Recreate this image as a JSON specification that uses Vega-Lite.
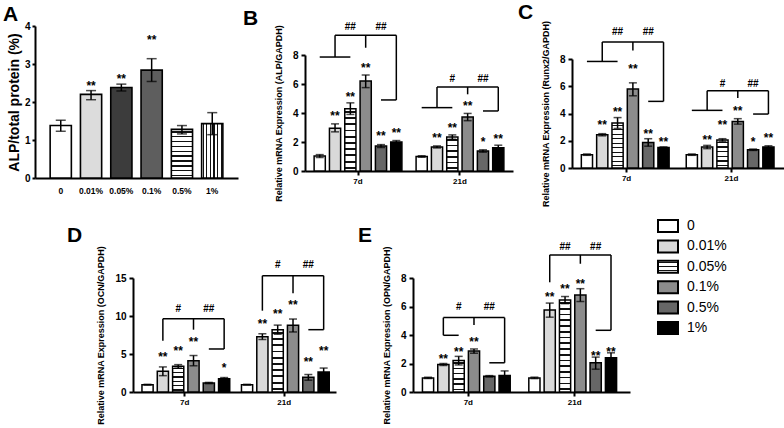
{
"$schema": "https://vega.github.io/schema/vega-lite/v6.json",
"background": "white",
"padding": {"left": 3, "top": 2, "right": 0, "bottom": 0},
"config": {
 "font": "Liberation Sans",
 "view": {"stroke": null},
 "axis": {"domainColor":"#000","domainWidth":2,"tickColor":"#000","tickWidth":2,"tickSize":4,"labelColor":"#000","labelFont":"Liberation Sans","labelFontWeight":"bold","labelFontSize":10,"titleFont":"Liberation Sans","titleFontWeight":"bold","titleFontSize":9,"titleColor":"#000","grid":false,"labelPadding":3,"titlePadding":9,"labelOverlap":false},
 "axisX": {"labelFontSize":8,"labelPadding":2},
 "title": {"font":"Liberation Sans","fontSize":21,"fontWeight":"bold","anchor":"start","color":"#000","frame":"group"},
 "text": {"font":"Liberation Sans"}
},
"params": [
 {"name":"G3","value":{"gradient":"linear","x1":0,"y1":0,"x2":0,"y2":1,"stops":[
  {"offset":0.117,"color":"#fff"},{"offset":0.117,"color":"#111"},{"offset":0.217,"color":"#111"},{"offset":0.217,"color":"#fff"},
  {"offset":0.45,"color":"#fff"},{"offset":0.45,"color":"#111"},{"offset":0.55,"color":"#111"},{"offset":0.55,"color":"#fff"},
  {"offset":0.783,"color":"#fff"},{"offset":0.783,"color":"#111"},{"offset":0.883,"color":"#111"},{"offset":0.883,"color":"#fff"}]}},
 {"name":"G6","value":{"gradient":"linear","x1":0,"y1":0,"x2":0,"y2":1,"stops":[
  {"offset":0.058,"color":"#fff"},{"offset":0.058,"color":"#111"},{"offset":0.108,"color":"#111"},{"offset":0.108,"color":"#fff"},
  {"offset":0.225,"color":"#fff"},{"offset":0.225,"color":"#111"},{"offset":0.275,"color":"#111"},{"offset":0.275,"color":"#fff"},
  {"offset":0.392,"color":"#fff"},{"offset":0.392,"color":"#111"},{"offset":0.442,"color":"#111"},{"offset":0.442,"color":"#fff"},
  {"offset":0.558,"color":"#fff"},{"offset":0.558,"color":"#111"},{"offset":0.608,"color":"#111"},{"offset":0.608,"color":"#fff"},
  {"offset":0.725,"color":"#fff"},{"offset":0.725,"color":"#111"},{"offset":0.775,"color":"#111"},{"offset":0.775,"color":"#fff"},
  {"offset":0.892,"color":"#fff"},{"offset":0.892,"color":"#111"},{"offset":0.942,"color":"#111"},{"offset":0.942,"color":"#fff"}]}},
 {"name":"V6","value":{"gradient":"linear","x1":0,"y1":0,"x2":1,"y2":0,"stops":[
  {"offset":0.058,"color":"#fff"},{"offset":0.058,"color":"#111"},{"offset":0.108,"color":"#111"},{"offset":0.108,"color":"#fff"},
  {"offset":0.225,"color":"#fff"},{"offset":0.225,"color":"#111"},{"offset":0.275,"color":"#111"},{"offset":0.275,"color":"#fff"},
  {"offset":0.392,"color":"#fff"},{"offset":0.392,"color":"#111"},{"offset":0.442,"color":"#111"},{"offset":0.442,"color":"#fff"},
  {"offset":0.558,"color":"#fff"},{"offset":0.558,"color":"#111"},{"offset":0.608,"color":"#111"},{"offset":0.608,"color":"#fff"},
  {"offset":0.725,"color":"#fff"},{"offset":0.725,"color":"#111"},{"offset":0.775,"color":"#111"},{"offset":0.775,"color":"#fff"},
  {"offset":0.892,"color":"#fff"},{"offset":0.892,"color":"#111"},{"offset":0.942,"color":"#111"},{"offset":0.942,"color":"#fff"}]}},
 {"name":"G10","value":{"gradient":"linear","x1":0,"y1":0,"x2":0,"y2":1,"stops":[
  {"offset":0.035,"color":"#fff"},{"offset":0.035,"color":"#111"},{"offset":0.065,"color":"#111"},{"offset":0.065,"color":"#fff"},
  {"offset":0.135,"color":"#fff"},{"offset":0.135,"color":"#111"},{"offset":0.165,"color":"#111"},{"offset":0.165,"color":"#fff"},
  {"offset":0.235,"color":"#fff"},{"offset":0.235,"color":"#111"},{"offset":0.265,"color":"#111"},{"offset":0.265,"color":"#fff"},
  {"offset":0.335,"color":"#fff"},{"offset":0.335,"color":"#111"},{"offset":0.365,"color":"#111"},{"offset":0.365,"color":"#fff"},
  {"offset":0.435,"color":"#fff"},{"offset":0.435,"color":"#111"},{"offset":0.465,"color":"#111"},{"offset":0.465,"color":"#fff"},
  {"offset":0.535,"color":"#fff"},{"offset":0.535,"color":"#111"},{"offset":0.565,"color":"#111"},{"offset":0.565,"color":"#fff"},
  {"offset":0.635,"color":"#fff"},{"offset":0.635,"color":"#111"},{"offset":0.665,"color":"#111"},{"offset":0.665,"color":"#fff"},
  {"offset":0.735,"color":"#fff"},{"offset":0.735,"color":"#111"},{"offset":0.765,"color":"#111"},{"offset":0.765,"color":"#fff"},
  {"offset":0.835,"color":"#fff"},{"offset":0.835,"color":"#111"},{"offset":0.865,"color":"#111"},{"offset":0.865,"color":"#fff"},
  {"offset":0.935,"color":"#fff"},{"offset":0.935,"color":"#111"},{"offset":0.965,"color":"#111"},{"offset":0.965,"color":"#fff"}]}},
 {"name":"G16","value":{"gradient":"linear","x1":0,"y1":0,"x2":0,"y2":1,"stops":[
  {"offset":0.022,"color":"#fff"},{"offset":0.022,"color":"#111"},{"offset":0.041,"color":"#111"},{"offset":0.041,"color":"#fff"},
  {"offset":0.084,"color":"#fff"},{"offset":0.084,"color":"#111"},{"offset":0.103,"color":"#111"},{"offset":0.103,"color":"#fff"},
  {"offset":0.147,"color":"#fff"},{"offset":0.147,"color":"#111"},{"offset":0.166,"color":"#111"},{"offset":0.166,"color":"#fff"},
  {"offset":0.209,"color":"#fff"},{"offset":0.209,"color":"#111"},{"offset":0.228,"color":"#111"},{"offset":0.228,"color":"#fff"},
  {"offset":0.272,"color":"#fff"},{"offset":0.272,"color":"#111"},{"offset":0.291,"color":"#111"},{"offset":0.291,"color":"#fff"},
  {"offset":0.334,"color":"#fff"},{"offset":0.334,"color":"#111"},{"offset":0.353,"color":"#111"},{"offset":0.353,"color":"#fff"},
  {"offset":0.397,"color":"#fff"},{"offset":0.397,"color":"#111"},{"offset":0.416,"color":"#111"},{"offset":0.416,"color":"#fff"},
  {"offset":0.459,"color":"#fff"},{"offset":0.459,"color":"#111"},{"offset":0.478,"color":"#111"},{"offset":0.478,"color":"#fff"},
  {"offset":0.522,"color":"#fff"},{"offset":0.522,"color":"#111"},{"offset":0.541,"color":"#111"},{"offset":0.541,"color":"#fff"},
  {"offset":0.584,"color":"#fff"},{"offset":0.584,"color":"#111"},{"offset":0.603,"color":"#111"},{"offset":0.603,"color":"#fff"},
  {"offset":0.647,"color":"#fff"},{"offset":0.647,"color":"#111"},{"offset":0.666,"color":"#111"},{"offset":0.666,"color":"#fff"},
  {"offset":0.709,"color":"#fff"},{"offset":0.709,"color":"#111"},{"offset":0.728,"color":"#111"},{"offset":0.728,"color":"#fff"},
  {"offset":0.772,"color":"#fff"},{"offset":0.772,"color":"#111"},{"offset":0.791,"color":"#111"},{"offset":0.791,"color":"#fff"},
  {"offset":0.834,"color":"#fff"},{"offset":0.834,"color":"#111"},{"offset":0.853,"color":"#111"},{"offset":0.853,"color":"#fff"},
  {"offset":0.897,"color":"#fff"},{"offset":0.897,"color":"#111"},{"offset":0.916,"color":"#111"},{"offset":0.916,"color":"#fff"},
  {"offset":0.959,"color":"#fff"},{"offset":0.959,"color":"#111"},{"offset":0.978,"color":"#111"},{"offset":0.978,"color":"#fff"}]}}
],
"datasets": {
 "A": [
  {"d":"0","m":1.38,"lo":1.23,"hi":1.52,"sig":"","sy":1.52},
  {"d":"0.01%","m":2.2,"lo":2.06,"hi":2.3,"sig":"**","sy":2.49},
  {"d":"0.05%","m":2.38,"lo":2.29,"hi":2.47,"sig":"**","sy":2.68},
  {"d":"0.1%","m":2.84,"lo":2.54,"hi":3.14,"sig":"**","sy":3.72},
  {"d":"0.5%","m":1.28,"lo":1.16,"hi":1.38,"sig":"","sy":1.38},
  {"d":"1%","m":1.43,"lo":1.14,"hi":1.72,"sig":"","sy":1.72}
 ],
 "bars": [
  {"p":"B","t":"7d","d":"0","m":1.03,"lo":0.93,"hi":1.13,"sig":"","sy":1.13},
  {"p":"B","t":"7d","d":"0.01%","m":2.95,"lo":2.7,"hi":3.25,"sig":"**","sy":4.0},
  {"p":"B","t":"7d","d":"0.05%","m":4.3,"lo":3.9,"hi":4.7,"sig":"**","sy":5.3},
  {"p":"B","t":"7d","d":"0.1%","m":6.2,"lo":5.75,"hi":6.62,"sig":"**","sy":7.3},
  {"p":"B","t":"7d","d":"0.5%","m":1.72,"lo":1.62,"hi":1.82,"sig":"**","sy":2.6},
  {"p":"B","t":"7d","d":"1%","m":2.0,"lo":1.9,"hi":2.1,"sig":"**","sy":2.8},
  {"p":"B","t":"21d","d":"0","m":1.0,"lo":0.95,"hi":1.05,"sig":"","sy":1.05},
  {"p":"B","t":"21d","d":"0.01%","m":1.66,"lo":1.59,"hi":1.73,"sig":"**","sy":2.5},
  {"p":"B","t":"21d","d":"0.05%","m":2.34,"lo":2.19,"hi":2.49,"sig":"**","sy":3.2},
  {"p":"B","t":"21d","d":"0.1%","m":3.72,"lo":3.47,"hi":3.97,"sig":"**","sy":4.7},
  {"p":"B","t":"21d","d":"0.5%","m":1.38,"lo":1.3,"hi":1.46,"sig":"*","sy":2.2},
  {"p":"B","t":"21d","d":"1%","m":1.6,"lo":1.42,"hi":1.78,"sig":"**","sy":2.4},
  {"p":"C","t":"7d","d":"0","m":0.98,"lo":0.93,"hi":1.03,"sig":"","sy":1.03},
  {"p":"C","t":"7d","d":"0.01%","m":2.44,"lo":2.36,"hi":2.52,"sig":"**","sy":3.4},
  {"p":"C","t":"7d","d":"0.05%","m":3.3,"lo":2.9,"hi":3.7,"sig":"**","sy":4.3},
  {"p":"C","t":"7d","d":"0.1%","m":5.79,"lo":5.3,"hi":6.25,"sig":"**","sy":7.5},
  {"p":"C","t":"7d","d":"0.5%","m":1.88,"lo":1.6,"hi":2.15,"sig":"**","sy":2.7},
  {"p":"C","t":"7d","d":"1%","m":1.5,"lo":1.45,"hi":1.55,"sig":"**","sy":2.1},
  {"p":"C","t":"21d","d":"0","m":0.98,"lo":0.93,"hi":1.03,"sig":"","sy":1.03},
  {"p":"C","t":"21d","d":"0.01%","m":1.54,"lo":1.42,"hi":1.66,"sig":"**","sy":2.3},
  {"p":"C","t":"21d","d":"0.05%","m":2.05,"lo":1.95,"hi":2.15,"sig":"**","sy":3.4},
  {"p":"C","t":"21d","d":"0.1%","m":3.42,"lo":3.22,"hi":3.62,"sig":"**","sy":4.4},
  {"p":"C","t":"21d","d":"0.5%","m":1.34,"lo":1.29,"hi":1.39,"sig":"*","sy":2.1},
  {"p":"C","t":"21d","d":"1%","m":1.55,"lo":1.47,"hi":1.63,"sig":"**","sy":2.45},
  {"p":"D","t":"7d","d":"0","m":0.96,"lo":0.91,"hi":1.01,"sig":"","sy":1.01},
  {"p":"D","t":"7d","d":"0.01%","m":2.72,"lo":2.15,"hi":3.3,"sig":"**","sy":5.0},
  {"p":"D","t":"7d","d":"0.05%","m":3.38,"lo":3.15,"hi":3.6,"sig":"**","sy":5.8},
  {"p":"D","t":"7d","d":"0.1%","m":4.12,"lo":3.45,"hi":4.8,"sig":"**","sy":7.0},
  {"p":"D","t":"7d","d":"0.5%","m":1.18,"lo":1.1,"hi":1.26,"sig":"","sy":1.26},
  {"p":"D","t":"7d","d":"1%","m":1.75,"lo":1.6,"hi":1.9,"sig":"*","sy":3.6},
  {"p":"D","t":"21d","d":"0","m":0.96,"lo":0.91,"hi":1.01,"sig":"","sy":1.01},
  {"p":"D","t":"21d","d":"0.01%","m":7.28,"lo":6.9,"hi":7.65,"sig":"**","sy":9.4},
  {"p":"D","t":"21d","d":"0.05%","m":8.2,"lo":7.6,"hi":8.8,"sig":"**","sy":10.7},
  {"p":"D","t":"21d","d":"0.1%","m":8.77,"lo":7.9,"hi":9.6,"sig":"**","sy":11.9},
  {"p":"D","t":"21d","d":"0.5%","m":1.93,"lo":1.55,"hi":2.3,"sig":"**","sy":4.3},
  {"p":"D","t":"21d","d":"1%","m":2.63,"lo":2.1,"hi":3.15,"sig":"**","sy":5.8},
  {"p":"E","t":"7d","d":"0","m":0.99,"lo":0.94,"hi":1.04,"sig":"","sy":1.04},
  {"p":"E","t":"7d","d":"0.01%","m":1.93,"lo":1.86,"hi":2.0,"sig":"**","sy":2.55},
  {"p":"E","t":"7d","d":"0.05%","m":2.21,"lo":1.9,"hi":2.5,"sig":"**","sy":3.0},
  {"p":"E","t":"7d","d":"0.1%","m":2.87,"lo":2.72,"hi":3.02,"sig":"**","sy":3.7},
  {"p":"E","t":"7d","d":"0.5%","m":1.1,"lo":1.05,"hi":1.15,"sig":"","sy":1.15},
  {"p":"E","t":"7d","d":"1%","m":1.15,"lo":0.85,"hi":1.48,"sig":"","sy":1.48},
  {"p":"E","t":"21d","d":"0","m":0.99,"lo":0.94,"hi":1.04,"sig":"","sy":1.04},
  {"p":"E","t":"21d","d":"0.01%","m":5.76,"lo":5.25,"hi":6.24,"sig":"**","sy":6.87},
  {"p":"E","t":"21d","d":"0.05%","m":6.45,"lo":6.2,"hi":6.7,"sig":"**","sy":7.43},
  {"p":"E","t":"21d","d":"0.1%","m":6.8,"lo":6.35,"hi":7.25,"sig":"**","sy":7.8},
  {"p":"E","t":"21d","d":"0.5%","m":2.05,"lo":1.6,"hi":2.45,"sig":"**","sy":2.75},
  {"p":"E","t":"21d","d":"1%","m":2.4,"lo":2.05,"hi":2.75,"sig":"**","sy":3.03}
 ],
 "br": [
  {"p":"B","t":"7d","d":"0","y":7.86,"s":"B7a"},{"p":"B","t":"7d","d":"0.05%","y":7.86,"s":"B7a"},
  {"p":"B","t":"7d","d":"0.01%","y":7.86,"s":"B7b"},{"p":"B","t":"7d","d":"0.01%","y":9.36,"s":"B7b"},
  {"p":"B","t":"7d","d":"0.01%","y":9.36,"s":"B7c"},{"p":"B","t":"7d","d":"1%","y":9.36,"s":"B7c"},
  {"p":"B","t":"7d","d":"0.1%","y":9.36,"s":"B7d"},{"p":"B","t":"7d","d":"0.1%","y":8.5,"s":"B7d"},
  {"p":"B","t":"7d","d":"1%","y":9.36,"s":"B7e"},{"p":"B","t":"7d","d":"1%","y":4.9,"s":"B7e"},
  {"p":"B","t":"7d","d":"0.5%","y":4.9,"s":"B7f"},{"p":"B","t":"7d","d":"1%","y":4.9,"s":"B7f"},
  {"p":"B","t":"21d","d":"0","y":4.37,"s":"B21a"},{"p":"B","t":"21d","d":"0.05%","y":4.37,"s":"B21a"},
  {"p":"B","t":"21d","d":"0.01%","y":4.37,"s":"B21b"},{"p":"B","t":"21d","d":"0.01%","y":5.79,"s":"B21b"},
  {"p":"B","t":"21d","d":"0.01%","y":5.79,"s":"B21c"},{"p":"B","t":"21d","d":"1%","y":5.79,"s":"B21c"},
  {"p":"B","t":"21d","d":"0.1%","y":5.79,"s":"B21d"},{"p":"B","t":"21d","d":"0.1%","y":5.29,"s":"B21d"},
  {"p":"B","t":"21d","d":"1%","y":5.79,"s":"B21e"},{"p":"B","t":"21d","d":"1%","y":4.14,"s":"B21e"},
  {"p":"B","t":"21d","d":"0.5%","y":4.14,"s":"B21f"},{"p":"B","t":"21d","d":"1%","y":4.14,"s":"B21f"},
  {"p":"C","t":"7d","d":"0","y":7.82,"s":"C7a"},{"p":"C","t":"7d","d":"0.05%","y":7.82,"s":"C7a"},
  {"p":"C","t":"7d","d":"0.01%","y":7.82,"s":"C7b"},{"p":"C","t":"7d","d":"0.01%","y":9.24,"s":"C7b"},
  {"p":"C","t":"7d","d":"0.01%","y":9.24,"s":"C7c"},{"p":"C","t":"7d","d":"1%","y":9.24,"s":"C7c"},
  {"p":"C","t":"7d","d":"0.1%","y":9.24,"s":"C7d"},{"p":"C","t":"7d","d":"0.1%","y":8.63,"s":"C7d"},
  {"p":"C","t":"7d","d":"1%","y":9.24,"s":"C7e"},{"p":"C","t":"7d","d":"1%","y":4.89,"s":"C7e"},
  {"p":"C","t":"7d","d":"0.5%","y":4.89,"s":"C7f"},{"p":"C","t":"7d","d":"1%","y":4.89,"s":"C7f"},
  {"p":"C","t":"21d","d":"0","y":4.23,"s":"C21a"},{"p":"C","t":"21d","d":"0.05%","y":4.23,"s":"C21a"},
  {"p":"C","t":"21d","d":"0.01%","y":4.23,"s":"C21b"},{"p":"C","t":"21d","d":"0.01%","y":5.67,"s":"C21b"},
  {"p":"C","t":"21d","d":"0.01%","y":5.67,"s":"C21c"},{"p":"C","t":"21d","d":"1%","y":5.67,"s":"C21c"},
  {"p":"C","t":"21d","d":"0.1%","y":5.67,"s":"C21d"},{"p":"C","t":"21d","d":"0.1%","y":5.13,"s":"C21d"},
  {"p":"C","t":"21d","d":"1%","y":5.67,"s":"C21e"},{"p":"C","t":"21d","d":"1%","y":3.96,"s":"C21e"},
  {"p":"C","t":"21d","d":"0.5%","y":3.96,"s":"C21f"},{"p":"C","t":"21d","d":"1%","y":3.96,"s":"C21f"},
  {"p":"D","t":"7d","d":"0.01%","y":6.75,"s":"D7b"},{"p":"D","t":"7d","d":"0.01%","y":9.65,"s":"D7b"},
  {"p":"D","t":"7d","d":"0.01%","y":9.65,"s":"D7c"},{"p":"D","t":"7d","d":"1%","y":9.65,"s":"D7c"},
  {"p":"D","t":"7d","d":"0.1%","y":9.65,"s":"D7d"},{"p":"D","t":"7d","d":"0.1%","y":8.2,"s":"D7d"},
  {"p":"D","t":"7d","d":"1%","y":9.65,"s":"D7e"},{"p":"D","t":"7d","d":"1%","y":5.66,"s":"D7e"},
  {"p":"D","t":"7d","d":"0.5%","y":5.66,"s":"D7f"},{"p":"D","t":"7d","d":"1%","y":5.66,"s":"D7f"},
  {"p":"D","t":"21d","d":"0.01%","y":10.7,"s":"D21b"},{"p":"D","t":"21d","d":"0.01%","y":15.3,"s":"D21b"},
  {"p":"D","t":"21d","d":"0.01%","y":15.3,"s":"D21c"},{"p":"D","t":"21d","d":"1%","y":15.3,"s":"D21c"},
  {"p":"D","t":"21d","d":"0.1%","y":15.3,"s":"D21d"},{"p":"D","t":"21d","d":"0.1%","y":13.0,"s":"D21d"},
  {"p":"D","t":"21d","d":"1%","y":15.3,"s":"D21e"},{"p":"D","t":"21d","d":"1%","y":8.2,"s":"D21e"},
  {"p":"D","t":"21d","d":"0.5%","y":8.2,"s":"D21f"},{"p":"D","t":"21d","d":"1%","y":8.2,"s":"D21f"},
  {"p":"E","t":"7d","d":"0.01%","y":3.98,"s":"E7a"},{"p":"E","t":"7d","d":"0.05%","y":3.98,"s":"E7a"},
  {"p":"E","t":"7d","d":"0.01%","y":3.98,"s":"E7b"},{"p":"E","t":"7d","d":"0.01%","y":5.22,"s":"E7b"},
  {"p":"E","t":"7d","d":"0.01%","y":5.22,"s":"E7c"},{"p":"E","t":"7d","d":"1%","y":5.22,"s":"E7c"},
  {"p":"E","t":"7d","d":"0.1%","y":5.22,"s":"E7d"},{"p":"E","t":"7d","d":"0.1%","y":4.7,"s":"E7d"},
  {"p":"E","t":"7d","d":"1%","y":5.22,"s":"E7e"},{"p":"E","t":"7d","d":"1%","y":2.05,"s":"E7e"},
  {"p":"E","t":"7d","d":"0.5%","y":2.05,"s":"E7f"},{"p":"E","t":"7d","d":"1%","y":2.05,"s":"E7f"},
  {"p":"E","t":"21d","d":"0.01%","y":7.7,"s":"E21b"},{"p":"E","t":"21d","d":"0.01%","y":9.62,"s":"E21b"},
  {"p":"E","t":"21d","d":"0.01%","y":9.62,"s":"E21c"},{"p":"E","t":"21d","d":"1%","y":9.62,"s":"E21c"},
  {"p":"E","t":"21d","d":"0.1%","y":9.62,"s":"E21d"},{"p":"E","t":"21d","d":"0.1%","y":9.0,"s":"E21d"},
  {"p":"E","t":"21d","d":"1%","y":9.62,"s":"E21e"},{"p":"E","t":"21d","d":"1%","y":4.33,"s":"E21e"},
  {"p":"E","t":"21d","d":"0.5%","y":4.33,"s":"E21f"},{"p":"E","t":"21d","d":"1%","y":4.33,"s":"E21f"}
 ],
 "hs": [
  {"p":"B","t":"7d","d":"0.05%","y":9.95,"l":"##"},{"p":"B","t":"7d","d":"0.5%","y":9.95,"l":"##"},
  {"p":"B","t":"21d","d":"0.05%","y":6.37,"l":"#"},{"p":"B","t":"21d","d":"0.5%","y":6.37,"l":"##"},
  {"p":"C","t":"7d","d":"0.05%","y":10.0,"l":"##"},{"p":"C","t":"7d","d":"0.5%","y":10.0,"l":"##"},
  {"p":"C","t":"21d","d":"0.05%","y":6.2,"l":"#"},{"p":"C","t":"21d","d":"0.5%","y":6.2,"l":"##"},
  {"p":"D","t":"7d","d":"0.05%","y":10.96,"l":"#"},{"p":"D","t":"7d","d":"0.5%","y":10.96,"l":"##"},
  {"p":"D","t":"21d","d":"0.05%","y":16.7,"l":"#"},{"p":"D","t":"21d","d":"0.5%","y":16.7,"l":"##"},
  {"p":"E","t":"7d","d":"0.05%","y":5.98,"l":"#"},{"p":"E","t":"7d","d":"0.5%","y":5.98,"l":"##"},
  {"p":"E","t":"21d","d":"0.05%","y":10.2,"l":"##"},{"p":"E","t":"21d","d":"0.5%","y":10.2,"l":"##"}
 ],
 "leg": [{"d":"0"},{"d":"0.01%"},{"d":"0.05%"},{"d":"0.1%"},{"d":"0.5%"},{"d":"1%"}]
},
"spacing": 8,
"align": "none",
"vconcat": [
 {"spacing": 5, "align": "none", "hconcat": [
  {"width": 203, "height": 152,
   "title": {"text": "A", "offset": -4, "dx": -32},
   "data": {"name": "A"},
   "encoding": {"x": {"field":"d","type":"nominal","sort":["0","0.01%","0.05%","0.1%","0.5%","1%"],"scale":{"paddingInner":0.3,"paddingOuter":0.5},"axis":{"title":null,"labelAngle":0,"ticks":false,"labelPadding":8,"labelFontSize":8.5}}},
   "layer": [
    {"mark":{"type":"bar","stroke":"#000","strokeWidth":1.6},"encoding":{"y":{"field":"m","type":"quantitative","scale":{"domain":[0,4],"nice":false},"axis":{"title":"ALP/total protein (%)","values":[0,1,2,3,4],"format":"d","tickCount":20,"labelOverlap":false,"titleFontSize":14,"labelFontSize":10,"tickSize":3,"labelPadding":2,"titlePadding":3}},
      "fill":{"condition":[
        {"test":"datum.d=='0'","value":"#ffffff"},
        {"test":"datum.d=='0.01%'","value":"#dcdcdc"},
        {"test":"datum.d=='0.05%'","value":"#3c3c3c"},
        {"test":"datum.d=='0.1%'","value":"#5e5e5e"},
        {"test":"datum.d=='0.5%'","value":{"expr":"G10"}}],"value":{"expr":"V6"}}}},
    {"mark":{"type":"rule","color":"#000","strokeWidth":1.5},"encoding":{"y":{"field":"lo","type":"quantitative","scale":{"domain":[0,4],"nice":false},"axis":{"title":"ALP/total protein (%)","values":[0,1,2,3,4],"format":"d","tickCount":20,"labelOverlap":false,"titleFontSize":14,"labelFontSize":10,"tickSize":3,"labelPadding":2,"titlePadding":3}},"y2":{"field":"hi"}}},
    {"mark":{"type":"tick","color":"#000","thickness":1.5,"size":10},"encoding":{"y":{"field":"hi","type":"quantitative","scale":{"domain":[0,4],"nice":false},"axis":{"title":"ALP/total protein (%)","values":[0,1,2,3,4],"format":"d","tickCount":20,"labelOverlap":false,"titleFontSize":14,"labelFontSize":10,"tickSize":3,"labelPadding":2,"titlePadding":3}}}},
    {"mark":{"type":"tick","color":"#000","thickness":1.5,"size":10},"encoding":{"y":{"field":"lo","type":"quantitative","scale":{"domain":[0,4],"nice":false},"axis":{"title":"ALP/total protein (%)","values":[0,1,2,3,4],"format":"d","tickCount":20,"labelOverlap":false,"titleFontSize":14,"labelFontSize":10,"tickSize":3,"labelPadding":2,"titlePadding":3}}}},
    {"mark":{"type":"text","fontWeight":"bold","fontSize":12,"baseline":"middle","dy":3},"encoding":{"y":{"field":"sy","type":"quantitative","scale":{"domain":[0,4],"nice":false},"axis":{"title":"ALP/total protein (%)","values":[0,1,2,3,4],"format":"d","tickCount":20,"labelOverlap":false,"titleFontSize":14,"labelFontSize":10,"tickSize":3,"labelPadding":2,"titlePadding":3}},"text":{"field":"sig"}}}
   ]},
  {"width": 208, "height": 145,
   "title": {"text": "B", "offset": -7, "dx": -62},
   "encoding": {
    "x": {"field":"t","type":"nominal","sort":["7d","21d"],"scale":{"paddingInner":0.1,"paddingOuter":0.07},"axis":{"title":null,"labelAngle":0}},
    "xOffset": {"field":"d","type":"nominal","sort":["0","0.01%","0.05%","0.1%","0.5%","1%"],"scale":{"paddingInner":0.27,"paddingOuter":0.13}}},
   "layer": [
    {"data":{"name":"bars"},"transform":[{"filter":"datum.p=='B'"}],"mark":{"type":"bar","stroke":"#000","strokeWidth":1.5},"encoding":{"y":{"field":"m","type":"quantitative","scale":{"domain":[0,8],"nice":false,"range":[145,29]},"axis":{"title":"Relative mRNA Expression (ALP/GAPDH)","values":[0,2,4,6,8],"format":"d","tickCount":20,"labelOverlap":false}},
      "fill":{"condition":[
        {"test":"datum.d=='0'","value":"#ffffff"},
        {"test":"datum.d=='0.01%'","value":"#d9d9d9"},
        {"test":"datum.d=='0.05%' && datum.t=='7d'","value":{"expr":"G10"}},
        {"test":"datum.d=='0.05%'","value":{"expr":"G6"}},
        {"test":"datum.d=='0.1%'","value":"#8c8c8c"},
        {"test":"datum.d=='0.5%'","value":"#676767"}],"value":"#000000"}}},
    {"data":{"name":"bars"},"transform":[{"filter":"datum.p=='B'"}],"mark":{"type":"rule","color":"#000","strokeWidth":1.5},"encoding":{"y":{"field":"lo","type":"quantitative","scale":{"domain":[0,8],"nice":false,"range":[145,29]},"axis":{"title":"Relative mRNA Expression (ALP/GAPDH)","values":[0,2,4,6,8],"format":"d","tickCount":20,"labelOverlap":false}},"y2":{"field":"hi"}}},
    {"data":{"name":"bars"},"transform":[{"filter":"datum.p=='B'"}],"mark":{"type":"tick","color":"#000","thickness":1.5,"size":8},"encoding":{"y":{"field":"hi","type":"quantitative","scale":{"domain":[0,8],"nice":false,"range":[145,29]},"axis":{"title":"Relative mRNA Expression (ALP/GAPDH)","values":[0,2,4,6,8],"format":"d","tickCount":20,"labelOverlap":false}}}},
    {"data":{"name":"bars"},"transform":[{"filter":"datum.p=='B'"}],"mark":{"type":"tick","color":"#000","thickness":1.5,"size":8},"encoding":{"y":{"field":"lo","type":"quantitative","scale":{"domain":[0,8],"nice":false,"range":[145,29]},"axis":{"title":"Relative mRNA Expression (ALP/GAPDH)","values":[0,2,4,6,8],"format":"d","tickCount":20,"labelOverlap":false}}}},
    {"data":{"name":"bars"},"transform":[{"filter":"datum.p=='B'"}],"mark":{"type":"text","fontWeight":"bold","fontSize":12,"baseline":"middle","dy":3},"encoding":{"y":{"field":"sy","type":"quantitative","scale":{"domain":[0,8],"nice":false,"range":[145,29]},"axis":{"title":"Relative mRNA Expression (ALP/GAPDH)","values":[0,2,4,6,8],"format":"d","tickCount":20,"labelOverlap":false}},"text":{"field":"sig"}}},
    {"data":{"name":"br"},"transform":[{"filter":"datum.p=='B'"}],"mark":{"type":"line","color":"#000","strokeWidth":1.5},"encoding":{"y":{"field":"y","type":"quantitative","scale":{"domain":[0,8],"nice":false,"range":[145,29]},"axis":{"title":"Relative mRNA Expression (ALP/GAPDH)","values":[0,2,4,6,8],"format":"d","tickCount":20,"labelOverlap":false}},"detail":{"field":"s","type":"nominal"}}},
    {"data":{"name":"hs"},"transform":[{"filter":"datum.p=='B'"}],"mark":{"type":"text","fontWeight":"bold","fontSize":10,"baseline":"middle"},"encoding":{"y":{"field":"y","type":"quantitative","scale":{"domain":[0,8],"nice":false,"range":[145,29]},"axis":{"title":"Relative mRNA Expression (ALP/GAPDH)","values":[0,2,4,6,8],"format":"d","tickCount":20,"labelOverlap":false}},"text":{"field":"l"}}}
   ]},
  {"width": 214, "height": 142,
   "title": {"text": "C", "offset": -3, "dx": -54},
   "encoding": {
    "x": {"field":"t","type":"nominal","sort":["7d","21d"],"scale":{"paddingInner":0.1,"paddingOuter":0.07},"axis":{"title":null,"labelAngle":0}},
    "xOffset": {"field":"d","type":"nominal","sort":["0","0.01%","0.05%","0.1%","0.5%","1%"],"scale":{"paddingInner":0.27,"paddingOuter":0.13}}},
   "layer": [
    {"data":{"name":"bars"},"transform":[{"filter":"datum.p=='C'"}],"mark":{"type":"bar","stroke":"#000","strokeWidth":1.5},"encoding":{"y":{"field":"m","type":"quantitative","scale":{"domain":[0,8],"nice":false,"range":[142,33]},"axis":{"title":"Relative mRNA Expression (Runx2/GAPDH)","values":[0,2,4,6,8],"format":"d","tickCount":20,"labelOverlap":false}},
      "fill":{"condition":[
        {"test":"datum.d=='0'","value":"#ffffff"},
        {"test":"datum.d=='0.01%'","value":"#d9d9d9"},
        {"test":"datum.d=='0.05%' && datum.t=='7d'","value":{"expr":"G10"}},
        {"test":"datum.d=='0.05%'","value":{"expr":"G6"}},
        {"test":"datum.d=='0.1%'","value":"#8c8c8c"},
        {"test":"datum.d=='0.5%'","value":"#676767"}],"value":"#000000"}}},
    {"data":{"name":"bars"},"transform":[{"filter":"datum.p=='C'"}],"mark":{"type":"rule","color":"#000","strokeWidth":1.5},"encoding":{"y":{"field":"lo","type":"quantitative","scale":{"domain":[0,8],"nice":false,"range":[142,33]},"axis":{"title":"Relative mRNA Expression (Runx2/GAPDH)","values":[0,2,4,6,8],"format":"d","tickCount":20,"labelOverlap":false}},"y2":{"field":"hi"}}},
    {"data":{"name":"bars"},"transform":[{"filter":"datum.p=='C'"}],"mark":{"type":"tick","color":"#000","thickness":1.5,"size":8},"encoding":{"y":{"field":"hi","type":"quantitative","scale":{"domain":[0,8],"nice":false,"range":[142,33]},"axis":{"title":"Relative mRNA Expression (Runx2/GAPDH)","values":[0,2,4,6,8],"format":"d","tickCount":20,"labelOverlap":false}}}},
    {"data":{"name":"bars"},"transform":[{"filter":"datum.p=='C'"}],"mark":{"type":"tick","color":"#000","thickness":1.5,"size":8},"encoding":{"y":{"field":"lo","type":"quantitative","scale":{"domain":[0,8],"nice":false,"range":[142,33]},"axis":{"title":"Relative mRNA Expression (Runx2/GAPDH)","values":[0,2,4,6,8],"format":"d","tickCount":20,"labelOverlap":false}}}},
    {"data":{"name":"bars"},"transform":[{"filter":"datum.p=='C'"}],"mark":{"type":"text","fontWeight":"bold","fontSize":12,"baseline":"middle","dy":3},"encoding":{"y":{"field":"sy","type":"quantitative","scale":{"domain":[0,8],"nice":false,"range":[142,33]},"axis":{"title":"Relative mRNA Expression (Runx2/GAPDH)","values":[0,2,4,6,8],"format":"d","tickCount":20,"labelOverlap":false}},"text":{"field":"sig"}}},
    {"data":{"name":"br"},"transform":[{"filter":"datum.p=='C'"}],"mark":{"type":"line","color":"#000","strokeWidth":1.5},"encoding":{"y":{"field":"y","type":"quantitative","scale":{"domain":[0,8],"nice":false,"range":[142,33]},"axis":{"title":"Relative mRNA Expression (Runx2/GAPDH)","values":[0,2,4,6,8],"format":"d","tickCount":20,"labelOverlap":false}},"detail":{"field":"s","type":"nominal"}}},
    {"data":{"name":"hs"},"transform":[{"filter":"datum.p=='C'"}],"mark":{"type":"text","fontWeight":"bold","fontSize":10,"baseline":"middle"},"encoding":{"y":{"field":"y","type":"quantitative","scale":{"domain":[0,8],"nice":false,"range":[142,33]},"axis":{"title":"Relative mRNA Expression (Runx2/GAPDH)","values":[0,2,4,6,8],"format":"d","tickCount":20,"labelOverlap":false}},"text":{"field":"l"}}}
   ]}
 ]},
 {"spacing": 22, "align": "none", "hconcat": [
  {"width": 10, "height": 10, "data": {"values": [{"k": ""}]}, "mark": {"type": "text", "opacity": 0}, "encoding": {"text": {"field": "k"}}},
  {"width": 203, "height": 172,
   "title": {"text": "D", "offset": -26, "dx": -66},
   "encoding": {
    "x": {"field":"t","type":"nominal","sort":["7d","21d"],"scale":{"paddingInner":0.1,"paddingOuter":0.07},"axis":{"title":null,"labelAngle":0}},
    "xOffset": {"field":"d","type":"nominal","sort":["0","0.01%","0.05%","0.1%","0.5%","1%"],"scale":{"paddingInner":0.27,"paddingOuter":0.13}}},
   "layer": [
    {"data":{"name":"bars"},"transform":[{"filter":"datum.p=='D'"}],"mark":{"type":"bar","stroke":"#000","strokeWidth":1.5},"encoding":{"y":{"field":"m","type":"quantitative","scale":{"domain":[0,15],"nice":false,"range":[172,58]},"axis":{"title":"Relative mRNA Expression (OCN/GAPDH)","values":[0,5,10,15],"format":"d","tickCount":20,"labelOverlap":false}},
      "fill":{"condition":[
        {"test":"datum.d=='0'","value":"#ffffff"},
        {"test":"datum.d=='0.01%'","value":"#d9d9d9"},
        {"test":"datum.d=='0.05%' && datum.t=='21d'","value":{"expr":"G10"}},
        {"test":"datum.d=='0.05%'","value":{"expr":"G6"}},
        {"test":"datum.d=='0.1%'","value":"#8c8c8c"},
        {"test":"datum.d=='0.5%'","value":"#676767"}],"value":"#000000"}}},
    {"data":{"name":"bars"},"transform":[{"filter":"datum.p=='D'"}],"mark":{"type":"rule","color":"#000","strokeWidth":1.5},"encoding":{"y":{"field":"lo","type":"quantitative","scale":{"domain":[0,15],"nice":false,"range":[172,58]},"axis":{"title":"Relative mRNA Expression (OCN/GAPDH)","values":[0,5,10,15],"format":"d","tickCount":20,"labelOverlap":false}},"y2":{"field":"hi"}}},
    {"data":{"name":"bars"},"transform":[{"filter":"datum.p=='D'"}],"mark":{"type":"tick","color":"#000","thickness":1.5,"size":8},"encoding":{"y":{"field":"hi","type":"quantitative","scale":{"domain":[0,15],"nice":false,"range":[172,58]},"axis":{"title":"Relative mRNA Expression (OCN/GAPDH)","values":[0,5,10,15],"format":"d","tickCount":20,"labelOverlap":false}}}},
    {"data":{"name":"bars"},"transform":[{"filter":"datum.p=='D'"}],"mark":{"type":"tick","color":"#000","thickness":1.5,"size":8},"encoding":{"y":{"field":"lo","type":"quantitative","scale":{"domain":[0,15],"nice":false,"range":[172,58]},"axis":{"title":"Relative mRNA Expression (OCN/GAPDH)","values":[0,5,10,15],"format":"d","tickCount":20,"labelOverlap":false}}}},
    {"data":{"name":"bars"},"transform":[{"filter":"datum.p=='D'"}],"mark":{"type":"text","fontWeight":"bold","fontSize":12,"baseline":"middle","dy":3},"encoding":{"y":{"field":"sy","type":"quantitative","scale":{"domain":[0,15],"nice":false,"range":[172,58]},"axis":{"title":"Relative mRNA Expression (OCN/GAPDH)","values":[0,5,10,15],"format":"d","tickCount":20,"labelOverlap":false}},"text":{"field":"sig"}}},
    {"data":{"name":"br"},"transform":[{"filter":"datum.p=='D'"}],"mark":{"type":"line","color":"#000","strokeWidth":1.5},"encoding":{"y":{"field":"y","type":"quantitative","scale":{"domain":[0,15],"nice":false,"range":[172,58]},"axis":{"title":"Relative mRNA Expression (OCN/GAPDH)","values":[0,5,10,15],"format":"d","tickCount":20,"labelOverlap":false}},"detail":{"field":"s","type":"nominal"}}},
    {"data":{"name":"hs"},"transform":[{"filter":"datum.p=='D'"}],"mark":{"type":"text","fontWeight":"bold","fontSize":10,"baseline":"middle"},"encoding":{"y":{"field":"y","type":"quantitative","scale":{"domain":[0,15],"nice":false,"range":[172,58]},"axis":{"title":"Relative mRNA Expression (OCN/GAPDH)","values":[0,5,10,15],"format":"d","tickCount":20,"labelOverlap":false}},"text":{"field":"l"}}}
   ]},
  {"width": 217, "height": 172,
   "title": {"text": "E", "offset": -26, "dx": -55},
   "encoding": {
    "x": {"field":"t","type":"nominal","sort":["7d","21d"],"scale":{"paddingInner":0.1,"paddingOuter":0.07},"axis":{"title":null,"labelAngle":0}},
    "xOffset": {"field":"d","type":"nominal","sort":["0","0.01%","0.05%","0.1%","0.5%","1%"],"scale":{"paddingInner":0.27,"paddingOuter":0.13}}},
   "layer": [
    {"data":{"name":"bars"},"transform":[{"filter":"datum.p=='E'"}],"mark":{"type":"bar","stroke":"#000","strokeWidth":1.5},"encoding":{"y":{"field":"m","type":"quantitative","scale":{"domain":[0,8],"nice":false,"range":[172,58]},"axis":{"title":"Relative mRNA Expression (OPN/GAPDH)","values":[0,2,4,6,8],"format":"d","tickCount":20,"labelOverlap":false}},
      "fill":{"condition":[
        {"test":"datum.d=='0'","value":"#ffffff"},
        {"test":"datum.d=='0.01%'","value":"#d9d9d9"},
        {"test":"datum.d=='0.05%' && datum.t=='21d'","value":{"expr":"G16"}},
        {"test":"datum.d=='0.05%'","value":{"expr":"G6"}},
        {"test":"datum.d=='0.1%'","value":"#8c8c8c"},
        {"test":"datum.d=='0.5%'","value":"#676767"}],"value":"#000000"}}},
    {"data":{"name":"bars"},"transform":[{"filter":"datum.p=='E'"}],"mark":{"type":"rule","color":"#000","strokeWidth":1.5},"encoding":{"y":{"field":"lo","type":"quantitative","scale":{"domain":[0,8],"nice":false,"range":[172,58]},"axis":{"title":"Relative mRNA Expression (OPN/GAPDH)","values":[0,2,4,6,8],"format":"d","tickCount":20,"labelOverlap":false}},"y2":{"field":"hi"}}},
    {"data":{"name":"bars"},"transform":[{"filter":"datum.p=='E'"}],"mark":{"type":"tick","color":"#000","thickness":1.5,"size":8},"encoding":{"y":{"field":"hi","type":"quantitative","scale":{"domain":[0,8],"nice":false,"range":[172,58]},"axis":{"title":"Relative mRNA Expression (OPN/GAPDH)","values":[0,2,4,6,8],"format":"d","tickCount":20,"labelOverlap":false}}}},
    {"data":{"name":"bars"},"transform":[{"filter":"datum.p=='E'"}],"mark":{"type":"tick","color":"#000","thickness":1.5,"size":8},"encoding":{"y":{"field":"lo","type":"quantitative","scale":{"domain":[0,8],"nice":false,"range":[172,58]},"axis":{"title":"Relative mRNA Expression (OPN/GAPDH)","values":[0,2,4,6,8],"format":"d","tickCount":20,"labelOverlap":false}}}},
    {"data":{"name":"bars"},"transform":[{"filter":"datum.p=='E'"}],"mark":{"type":"text","fontWeight":"bold","fontSize":12,"baseline":"middle","dy":3},"encoding":{"y":{"field":"sy","type":"quantitative","scale":{"domain":[0,8],"nice":false,"range":[172,58]},"axis":{"title":"Relative mRNA Expression (OPN/GAPDH)","values":[0,2,4,6,8],"format":"d","tickCount":20,"labelOverlap":false}},"text":{"field":"sig"}}},
    {"data":{"name":"br"},"transform":[{"filter":"datum.p=='E'"}],"mark":{"type":"line","color":"#000","strokeWidth":1.5},"encoding":{"y":{"field":"y","type":"quantitative","scale":{"domain":[0,8],"nice":false,"range":[172,58]},"axis":{"title":"Relative mRNA Expression (OPN/GAPDH)","values":[0,2,4,6,8],"format":"d","tickCount":20,"labelOverlap":false}},"detail":{"field":"s","type":"nominal"}}},
    {"data":{"name":"hs"},"transform":[{"filter":"datum.p=='E'"}],"mark":{"type":"text","fontWeight":"bold","fontSize":10,"baseline":"middle"},"encoding":{"y":{"field":"y","type":"quantitative","scale":{"domain":[0,8],"nice":false,"range":[172,58]},"axis":{"title":"Relative mRNA Expression (OPN/GAPDH)","values":[0,2,4,6,8],"format":"d","tickCount":20,"labelOverlap":false}},"text":{"field":"l"}}}
   ]},
  {"width": 32, "height": 114,
   "data": {"name": "leg"},
   "encoding": {"y": {"field":"d","type":"nominal","sort":["0","0.01%","0.05%","0.1%","0.5%","1%"],"axis":null,"scale":{"padding":0.294}}},
   "layer": [
    {"mark":{"type":"point","shape":"M-1,-0.6H1V0.6H-1Z","size":400,"filled":true,"stroke":"#000","strokeWidth":2,"opacity":1},
     "encoding":{"fill":{"condition":[
        {"test":"datum.d=='0'","value":"#ffffff"},
        {"test":"datum.d=='0.01%'","value":"#d9d9d9"},
        {"test":"datum.d=='0.05%'","value":{"expr":"G3"}},
        {"test":"datum.d=='0.1%'","value":"#8c8c8c"},
        {"test":"datum.d=='0.5%'","value":"#676767"}],"value":"#000000"}}},
    {"mark":{"type":"text","align":"left","baseline":"middle","dx":19,"fontSize":14,"color":"#000"},"encoding":{"text":{"field":"d"}}}
   ]}
 ]}
]
}
